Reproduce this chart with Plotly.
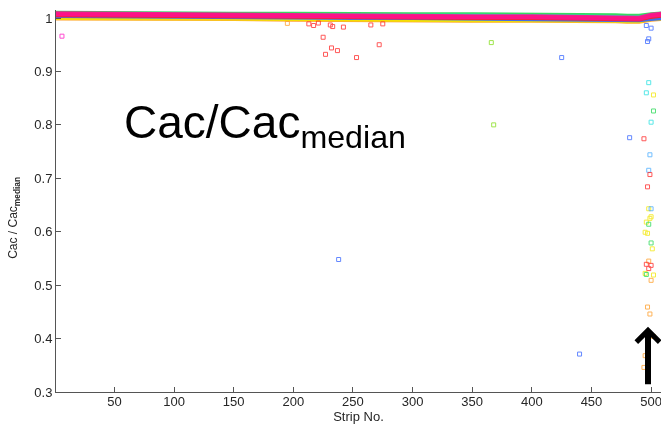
import plotly.graph_objects as go

# ---- band of the bulk of strips (read along the dense band near 1.0) ----
band_strips = [1, 50, 100, 150, 200, 250, 300, 350, 400, 450, 470, 480, 490, 500, 512]
band_orange = [0.998, 0.998, 0.997, 0.997, 0.996, 0.995, 0.995, 0.994, 0.994, 0.994, 0.993, 0.992, 0.992, 0.996, 0.998]
band_yellow = [0.999, 0.999, 0.998, 0.998, 0.997, 0.996, 0.996, 0.995, 0.995, 0.995, 0.994, 0.993, 0.993, 0.997, 0.999]
band_green = [1.011, 1.010, 1.010, 1.009, 1.009, 1.008, 1.008, 1.008, 1.007, 1.007, 1.006, 1.005, 1.005, 1.008, 1.010]
band_cyan = [1.009, 1.008, 1.008, 1.007, 1.007, 1.006, 1.006, 1.006, 1.005, 1.005, 1.004, 1.003, 1.003, 1.007, 1.009]
band_blue = [1.004, 1.003, 1.003, 1.002, 1.001, 1.000, 1.000, 0.999, 0.999, 0.998, 0.997, 0.996, 0.996, 0.998, 1.000]
band_red = [1.006, 1.005, 1.0045, 1.004, 1.003, 1.002, 1.0015, 1.001, 1.001, 1.0005, 1.000, 0.998, 0.998, 1.003, 1.006]
band_magenta = [1.008, 1.007, 1.006, 1.0055, 1.0045, 1.0035, 1.003, 1.0025, 1.0025, 1.002, 1.0015, 0.9995, 0.9995, 1.005, 1.008]

# ---- individual outlying strips ----
red_x = [213, 217, 221, 225, 227, 231, 232, 233, 237, 242, 253, 265, 272, 275, 494, 499, 497, 496, 500, 498]
red_y = [0.989, 0.986, 0.9906, 0.964, 0.932, 0.987, 0.944, 0.984, 0.939, 0.983, 0.926, 0.987, 0.950, 0.989,
         0.774, 0.707, 0.684, 0.539, 0.537, 0.531]
magenta_x = [6]
magenta_y = [0.966]
blue_x = [238, 425, 440, 482, 496, 500, 498, 497]
blue_y = [0.548, 0.926, 0.371, 0.776, 0.986, 0.981, 0.961, 0.956]
lightblue_x = [499, 498, 500]
lightblue_y = [0.744, 0.715, 0.643]
cyan_x = [498, 496, 500]
cyan_y = [0.879, 0.860, 0.805]
lime_x = [366, 368]
lime_y = [0.954, 0.800]
green_x = [502, 498, 500, 496]
green_y = [0.826, 0.614, 0.579, 0.520]
yellow_x = [502, 498, 500, 499, 496, 495, 497, 501, 495, 502]
yellow_y = [0.856, 0.643, 0.628, 0.625, 0.618, 0.599, 0.597, 0.568, 0.522, 0.519]
orange_x = [195, 498, 500, 497, 499, 502, 495, 494]
orange_y = [0.990, 0.545, 0.509, 0.459, 0.446, 0.404, 0.368, 0.346]

x_ticks = [50, 100, 150, 200, 250, 300, 350, 400, 450, 500]
y_ticks = [0.3, 0.4, 0.5, 0.6, 0.7, 0.8, 0.9, 1.0]
y_tick_text = ["0.3", "0.4", "0.5", "0.6", "0.7", "0.8", "0.9", "1"]

C = dict(red="#ff2020", orange="#ff9a20", yellow="#f2e600", lime="#7fdc10", green="#20d850",
         cyan="#20e0e0", lightblue="#40a8ff", blue="#3060ff", magenta="#ff10c0")

fig = go.Figure()

# bands (drawn bottom to top)
for vals, col, w in [(band_orange, C["orange"], 3), (band_yellow, C["yellow"], 3),
                     (band_green, C["green"], 3), (band_cyan, C["cyan"], 2),
                     (band_blue, C["blue"], 4), (band_red, C["red"], 5),
                     (band_magenta, "#ff1090", 5)]:
    fig.add_trace(go.Scatter(x=band_strips, y=vals, mode="lines",
                             line=dict(color=col, width=w), opacity=0.9,
                             showlegend=False, hoverinfo="skip"))

for xs, ys, col in [(orange_x, orange_y, C["orange"]), (yellow_x, yellow_y, C["yellow"]),
                    (lime_x, lime_y, C["lime"]), (green_x, green_y, C["green"]),
                    (cyan_x, cyan_y, C["cyan"]), (lightblue_x, lightblue_y, C["lightblue"]),
                    (blue_x, blue_y, C["blue"]), (red_x, red_y, C["red"]),
                    (magenta_x, magenta_y, C["magenta"])]:
    fig.add_trace(go.Scatter(x=xs, y=ys, mode="markers",
                             marker=dict(symbol="square-open", size=4, color=col,
                                         line=dict(width=1, color=col)),
                             opacity=0.75, showlegend=False))

L, T, B = 56.3, 10.3, 32.3
PW = 661 - L
PH = 424 - T - B

fig.update_layout(
    width=661, height=424,
    margin=dict(l=L, r=0, t=T, b=B, pad=0),
    paper_bgcolor="white", plot_bgcolor="white",
    font=dict(family="Liberation Sans, Arial, sans-serif", size=13, color="#262626"),
    xaxis=dict(range=[1, 1 + PW / 1.192], tickvals=x_ticks, ticks="inside", ticklen=5,
               tickcolor="#555", showline=True, linecolor="#555", linewidth=1,
               showgrid=False, zeroline=False, mirror=False, ticklabeloverflow="allow",
               ticklabelstandoff=-3,
               title=dict(text="Strip No.", font=dict(size=13), standoff=5)),
    yaxis=dict(range=[0.3, 1.015], tickvals=y_ticks, ticktext=y_tick_text, ticks="inside",
               ticklen=5, tickcolor="#555", showline=True, linecolor="#555", linewidth=1,
               showgrid=False, zeroline=False, ticklabeloverflow="allow"),
)

fig.add_annotation(text="Cac / Cac<sub><b>median</b></sub>", xref="paper", yref="paper",
                   x=-(L - 15) / PW, y=0.455, textangle=-90, showarrow=False,
                   font=dict(size=12, color="#262626"), xanchor="center", yanchor="middle")

fig.add_annotation(text="Cac/Cac<sub>median</sub>", xref="paper", yref="paper",
                   x=(122 - L) / PW, y=(424 - B - 126) / PH, showarrow=False,
                   font=dict(size=46, color="black"), xanchor="left", yanchor="middle")

fig.add_annotation(x=497.4, y=0.422, xref="x", yref="y", text="", showarrow=True,
                   ax=0, ay=59, arrowhead=4, arrowsize=0.75, arrowwidth=6,
                   arrowcolor="black", standoff=0, startstandoff=0)

fig.write_html("out.html")
